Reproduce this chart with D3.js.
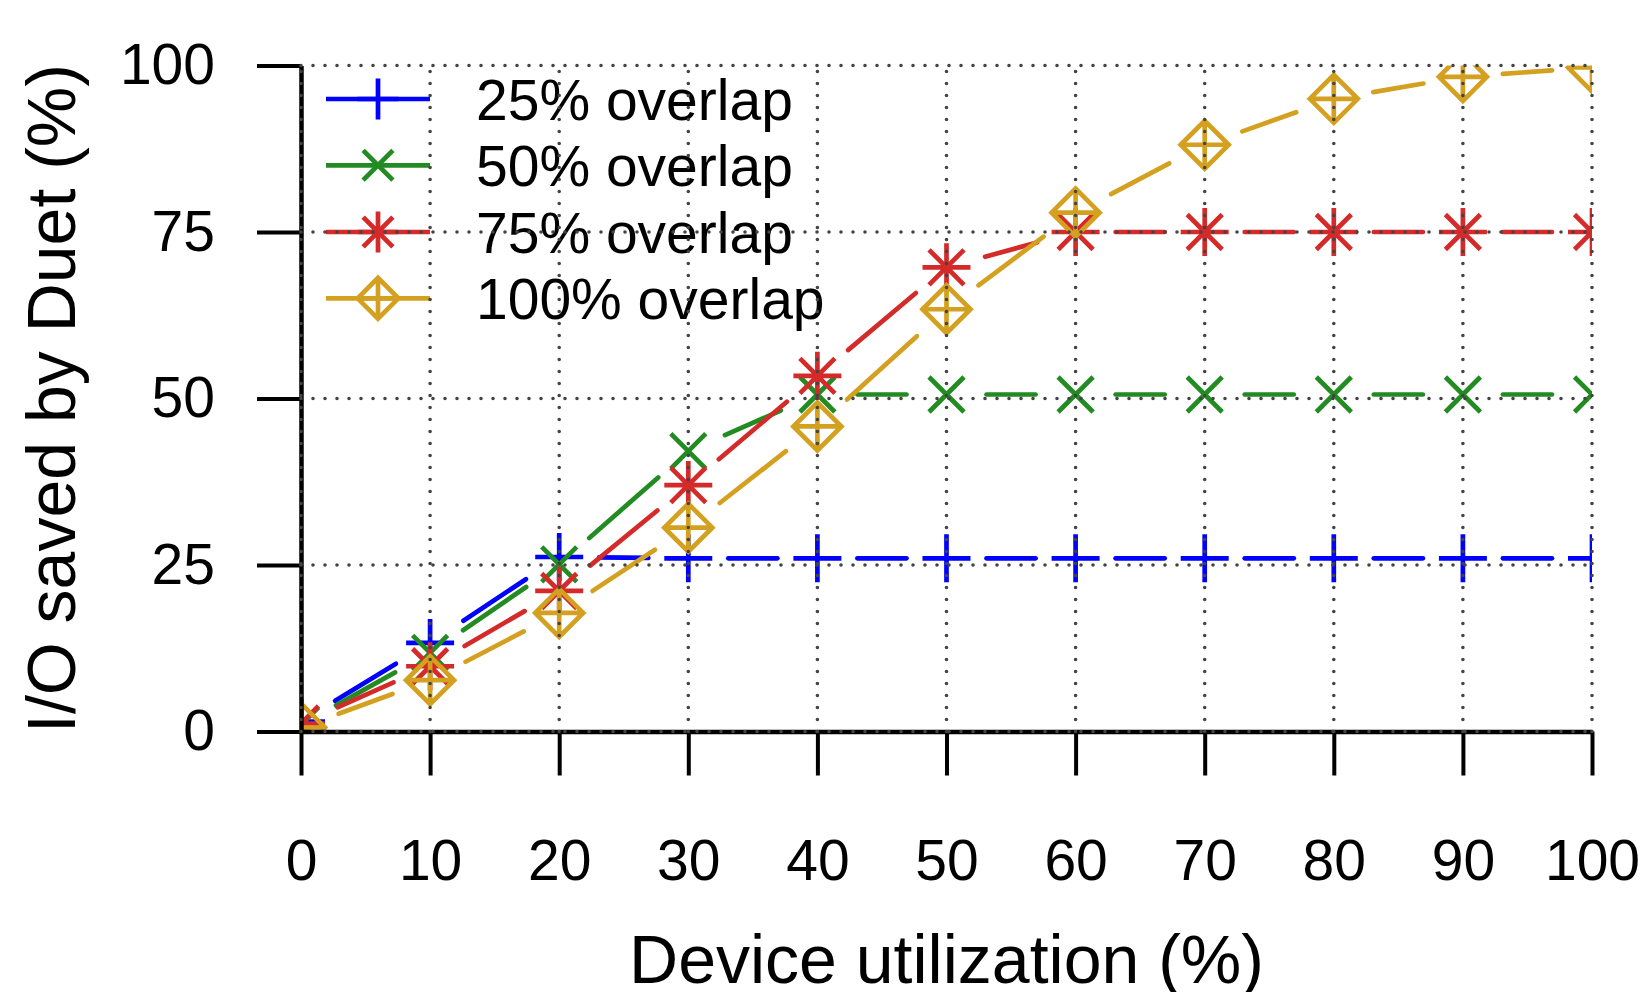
<!DOCTYPE html>
<html>
<head>
<meta charset="utf-8">
<script src="https://cdn.jsdelivr.net/npm/d3@7"></script>
<style>
  html, body { margin: 0; padding: 0; background: #fff; }
  svg { display: block; font-family: "Liberation Sans", Arial, Helvetica, sans-serif; }
</style>
</head>
<body>
<div id="chart"></div>
<script>
// Device utilization (%) on the x axis
const utilization = [0, 10, 20, 30, 40, 50, 60, 70, 80, 90, 100];

// I/O saved by Duet (%) for each overlap level
const overlap25 = [1.5, 13.3, 26.2, 26, 26, 26, 26, 26, 26, 26, 26];
const overlap50 = [1.0, 11.8, 25.1, 42.1, 50.6, 50.6, 50.6, 50.6, 50.6, 50.6, 50.6];
const overlap75 = [1.2, 9.8, 21.1, 37.0, 53.4, 69.7, 75, 75, 75, 75, 75];
const overlap100 = [0.6, 7.7, 17.8, 30.6, 45.8, 63.4, 77.9, 88.1, 95.0, 98.3, 99.7];

const seriesNames = ['25% overlap', '50% overlap', '75% overlap', '100% overlap'];
const seriesValues = [overlap25, overlap50, overlap75, overlap100];
const seriesColors = ['#0000ff', '#228b22', '#d42a2a', '#d4a020'];
const seriesMarkers = ['plus', 'cross', 'star', 'diamond'];

const xTicks = [0, 10, 20, 30, 40, 50, 60, 70, 80, 90, 100];
const yTicks = [0, 25, 50, 75, 100];

const width = 1647, height = 992;
const margin = { top: 65.5, right: 55, bottom: 260.5, left: 301 };

const svg = d3.select('#chart').append('svg')
  .attr('width', width)
  .attr('height', height);

const x = d3.scaleLinear().domain([0, 100]).range([margin.left, width - margin.right]);
const y = d3.scaleLinear().domain([0, 100]).range([height - margin.bottom, margin.top]);

svg.append('clipPath').attr('id', 'plot-clip')
  .append('rect')
  .attr('x', x(0)).attr('y', y(100))
  .attr('width', x(100) - x(0)).attr('height', y(0) - y(100));

// marker shapes, centred on 0,0
function markerPath(type, s) {
  const p = d3.path();
  const h = 24 * s, d = 17.5 * s;
  if (type === 'plus' || type === 'star' || type === 'diamond') {
    p.moveTo(-h, 0); p.lineTo(h, 0);
    p.moveTo(0, -h); p.lineTo(0, h);
  }
  if (type === 'cross' || type === 'star') {
    p.moveTo(-d, -d); p.lineTo(d, d);
    p.moveTo(-d, d); p.lineTo(d, -d);
  }
  if (type === 'diamond') {
    p.moveTo(-h, 0); p.lineTo(0, -h); p.lineTo(h, 0); p.lineTo(0, h); p.closePath();
  }
  return p.toString();
}

const plot = svg.append('g').attr('clip-path', 'url(#plot-clip)');
const gapRadius = 40;

seriesValues.forEach((vals, si) => {
  const g = plot.append('g');
  const pts = utilization.map((u, i) => [x(u), y(vals[i])]);
  // line segments with a blank gap around each point
  for (let i = 0; i < pts.length - 1; i++) {
    const [x1, y1] = pts[i], [x2, y2] = pts[i + 1];
    const len = Math.hypot(x2 - x1, y2 - y1);
    if (len <= 2 * gapRadius) continue;
    const ux = (x2 - x1) / len, uy = (y2 - y1) / len;
    g.append('line')
      .attr('x1', x1 + ux * gapRadius).attr('y1', y1 + uy * gapRadius)
      .attr('x2', x2 - ux * gapRadius).attr('y2', y2 - uy * gapRadius)
      .attr('stroke', seriesColors[si])
      .attr('stroke-width', 4.7)
      .attr('stroke-linecap', 'round');
  }
  g.selectAll('path.marker')
    .data(pts)
    .enter().append('path')
    .attr('class', 'marker')
    .attr('transform', d => `translate(${d[0]},${d[1]})`)
    .attr('d', markerPath(seriesMarkers[si], 1))
    .attr('fill', 'none')
    .attr('stroke', seriesColors[si])
    .attr('stroke-width', 4.7);
});

// axes
const yAxis = svg.append('g')
  .attr('transform', `translate(${x(0)},0)`)
  .call(d3.axisLeft(y).tickValues(yTicks).tickSize(44).tickSizeOuter(0).tickPadding(42));

const xAxis = svg.append('g')
  .attr('transform', `translate(0,${y(0)})`)
  .call(d3.axisBottom(x).tickValues(xTicks).tickSize(44).tickSizeOuter(0).tickPadding(64));

[yAxis, xAxis].forEach(a => {
  a.select('.domain').attr('stroke', '#000').attr('stroke-width', 4.5);
  a.selectAll('.tick line').attr('stroke', '#000').attr('stroke-width', 4);
  a.selectAll('.tick text')
    .attr('fill', '#000')
    .style('font-size', '57px')
    .style('font-family', '"Liberation Sans", Arial, Helvetica, sans-serif');
});

// axis titles
svg.append('text')
  .attr('x', (x(0) + x(100)) / 2)
  .attr('y', 983)
  .attr('text-anchor', 'middle')
  .style('font-size', '68px')
  .text('Device utilization (%)');

svg.append('text')
  .attr('transform', `translate(75,${(y(0) + y(100)) / 2}) rotate(-90)`)
  .attr('text-anchor', 'middle')
  .style('font-size', '68px')
  .text('I/O saved by Duet (%)');

// legend
const legendRows = [99, 165.3, 232, 298.3];
const legend = svg.append('g');
seriesNames.forEach((name, i) => {
  const row = legend.append('g').attr('transform', `translate(0,${legendRows[i]})`);
  row.append('line')
    .attr('x1', 326).attr('x2', 430)
    .attr('y1', 0).attr('y2', 0)
    .attr('stroke', seriesColors[i])
    .attr('stroke-width', 4.7);
  row.append('path')
    .attr('transform', 'translate(378,0)')
    .attr('d', markerPath(seriesMarkers[i], 0.85))
    .attr('fill', 'none')
    .attr('stroke', seriesColors[i])
    .attr('stroke-width', 4.7);
  row.append('text')
    .attr('x', 476)
    .attr('y', 21)
    .style('font-size', '57px')
    .text(name);
});

// dotted grid, drawn in front of everything
const grid = svg.append('g')
  .attr('stroke', '#444')
  .attr('stroke-width', 3.6)
  .attr('stroke-linecap', 'round')
  .attr('stroke-dasharray', '0,12');

grid.selectAll('line.v')
  .data(xTicks)
  .enter().append('line')
  .attr('class', 'v')
  .attr('x1', d => x(d)).attr('x2', d => x(d))
  .attr('y1', y(0)).attr('y2', y(100));

grid.selectAll('line.h')
  .data(yTicks)
  .enter().append('line')
  .attr('class', 'h')
  .attr('x1', x(0)).attr('x2', x(100))
  .attr('y1', d => y(d)).attr('y2', d => y(d));
</script>
</body>
</html>
